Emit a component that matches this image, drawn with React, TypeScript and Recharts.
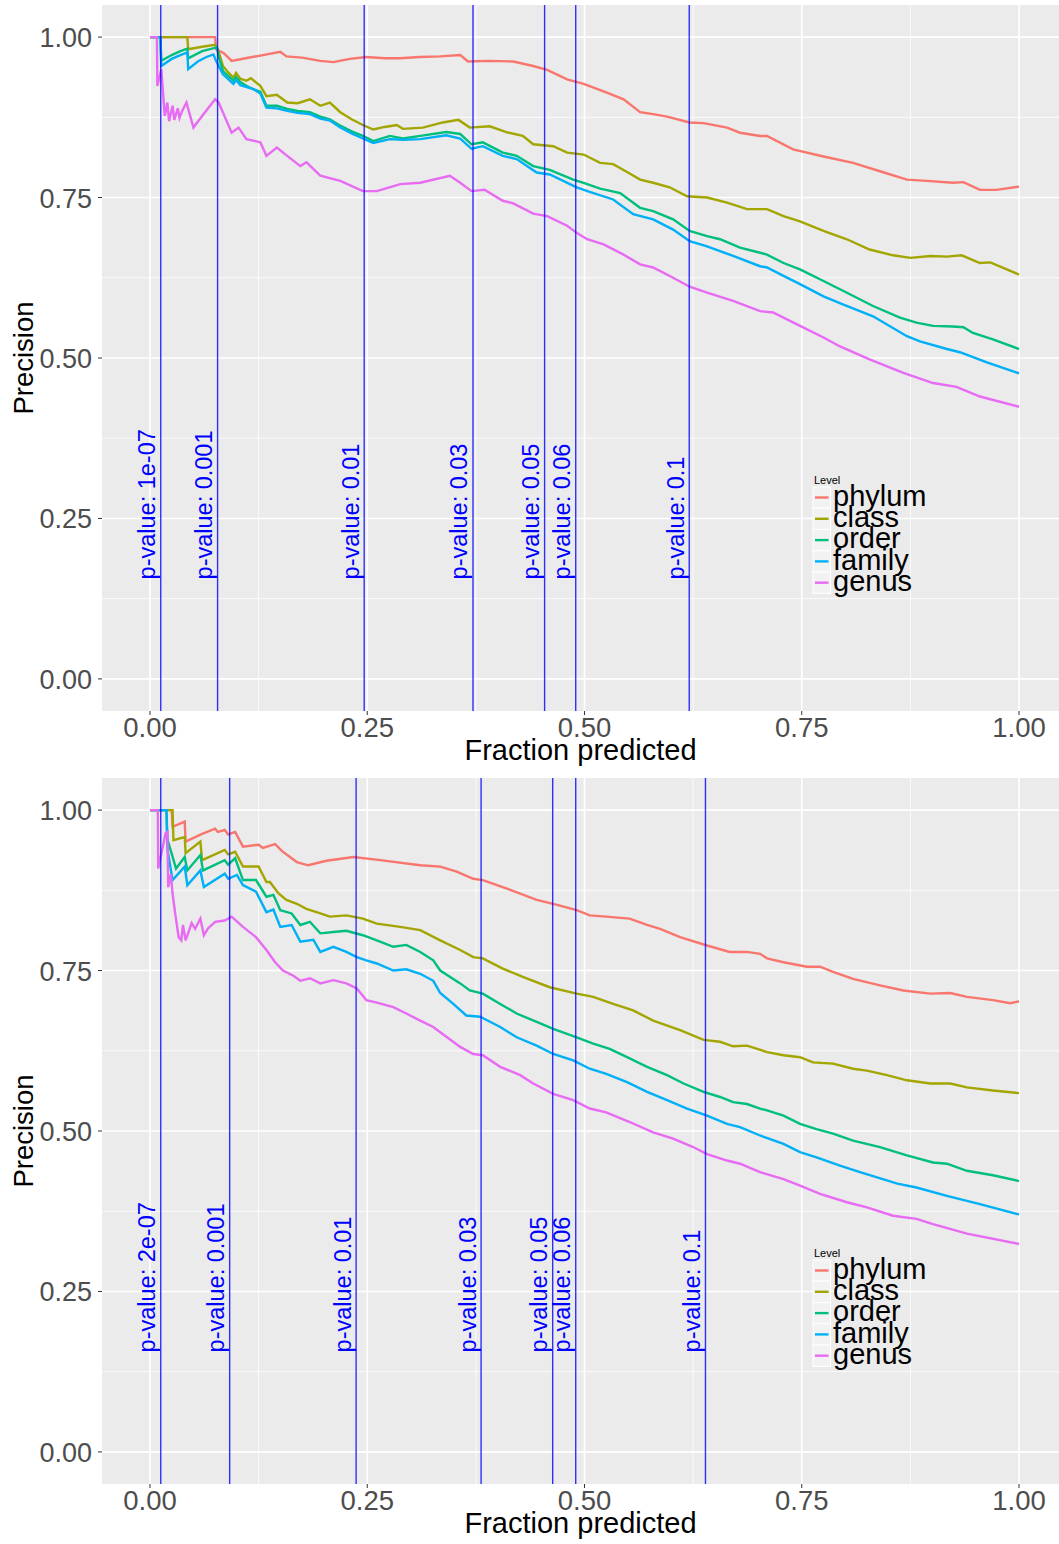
import React from "react";
import {
  LineChart,
  Line,
  XAxis,
  YAxis,
  CartesianGrid,
  ReferenceLine,
  Legend,
} from "recharts";

const LEVELS = ["phylum", "class", "order", "family", "genus"];
const LEVEL_COLORS = ["#F8766D", "#A3A500", "#00BF7D", "#00B0F6", "#E76BF3"];

const MAJOR_BREAKS = [0, 0.25, 0.5, 0.75, 1];
const MINOR_BREAKS = [0.125, 0.375, 0.625, 0.875];

// [fraction predicted, precision]
const topPhylum = [
  [0, 1], [0.075, 1], [0.076, 0.981], [0.085, 0.975], [0.094, 0.963], [0.11, 0.967],
  [0.13, 0.972], [0.15, 0.977], [0.157, 0.97], [0.175, 0.968], [0.196, 0.963],
  [0.211, 0.961], [0.23, 0.966], [0.249, 0.969], [0.27, 0.967], [0.288, 0.967],
  [0.31, 0.969], [0.334, 0.97], [0.357, 0.972], [0.366, 0.962], [0.39, 0.963],
  [0.418, 0.962], [0.441, 0.955], [0.457, 0.949], [0.48, 0.934], [0.499, 0.927],
  [0.525, 0.914], [0.545, 0.903], [0.564, 0.883], [0.579, 0.88], [0.595, 0.876],
  [0.621, 0.867], [0.637, 0.866], [0.664, 0.859], [0.679, 0.851], [0.702, 0.846],
  [0.71, 0.846], [0.74, 0.825], [0.775, 0.814], [0.809, 0.804], [0.84, 0.791],
  [0.871, 0.778], [0.894, 0.776], [0.924, 0.773], [0.936, 0.774], [0.955, 0.762],
  [0.974, 0.762], [1.0, 0.767],
];
const topClass = [
  [0, 1], [0.043, 1], [0.044, 0.981], [0.06, 0.985], [0.075, 0.988], [0.078, 0.981],
  [0.084, 0.955], [0.09, 0.945], [0.096, 0.937], [0.099, 0.944], [0.104, 0.935],
  [0.111, 0.932], [0.116, 0.936], [0.127, 0.924], [0.134, 0.908], [0.146, 0.91],
  [0.158, 0.898], [0.17, 0.897], [0.184, 0.903], [0.196, 0.893], [0.207, 0.898],
  [0.219, 0.883], [0.232, 0.872], [0.245, 0.863], [0.257, 0.856], [0.27, 0.86],
  [0.284, 0.863], [0.291, 0.857], [0.314, 0.859], [0.337, 0.867], [0.355, 0.871],
  [0.368, 0.859], [0.391, 0.861], [0.41, 0.852], [0.429, 0.846], [0.441, 0.833],
  [0.464, 0.83], [0.48, 0.82], [0.499, 0.817], [0.518, 0.804], [0.533, 0.802],
  [0.55, 0.789], [0.564, 0.778], [0.579, 0.773], [0.598, 0.766], [0.618, 0.752],
  [0.641, 0.75], [0.664, 0.742], [0.687, 0.732], [0.71, 0.732], [0.729, 0.721],
  [0.748, 0.713], [0.775, 0.698], [0.802, 0.685], [0.828, 0.669], [0.855, 0.66],
  [0.875, 0.656], [0.898, 0.659], [0.917, 0.658], [0.934, 0.66], [0.955, 0.648],
  [0.967, 0.649], [1.0, 0.63],
];
const topOrder = [
  [0, 1], [0.012, 1], [0.013, 0.963], [0.025, 0.972], [0.035, 0.978], [0.043, 0.982],
  [0.044, 0.967], [0.06, 0.978], [0.077, 0.984], [0.079, 0.97], [0.084, 0.947],
  [0.096, 0.932], [0.099, 0.938], [0.104, 0.93], [0.111, 0.924], [0.12, 0.918],
  [0.127, 0.915], [0.134, 0.893], [0.146, 0.893], [0.158, 0.888], [0.17, 0.885],
  [0.184, 0.883], [0.196, 0.876], [0.207, 0.872], [0.219, 0.862], [0.232, 0.853],
  [0.245, 0.846], [0.257, 0.838], [0.276, 0.846], [0.291, 0.842], [0.311, 0.846],
  [0.341, 0.852], [0.357, 0.849], [0.37, 0.833], [0.383, 0.836], [0.406, 0.82],
  [0.422, 0.815], [0.441, 0.799], [0.46, 0.793], [0.487, 0.778], [0.499, 0.773],
  [0.518, 0.764], [0.541, 0.757], [0.564, 0.734], [0.579, 0.729], [0.602, 0.716],
  [0.621, 0.698], [0.641, 0.69], [0.656, 0.685], [0.679, 0.672], [0.702, 0.664],
  [0.71, 0.661], [0.729, 0.648], [0.748, 0.638], [0.775, 0.62], [0.806, 0.599],
  [0.832, 0.581], [0.863, 0.563], [0.882, 0.555], [0.901, 0.55], [0.924, 0.549],
  [0.936, 0.548], [0.947, 0.539], [0.97, 0.529], [1.0, 0.514],
];
const topFamily = [
  [0, 1], [0.012, 1], [0.013, 0.955], [0.025, 0.966], [0.035, 0.972], [0.043, 0.976],
  [0.044, 0.95], [0.055, 0.962], [0.065, 0.969], [0.073, 0.973], [0.076, 0.963],
  [0.084, 0.942], [0.096, 0.927], [0.099, 0.933], [0.104, 0.925], [0.119, 0.919],
  [0.127, 0.912], [0.134, 0.89], [0.146, 0.889], [0.158, 0.885], [0.17, 0.882],
  [0.184, 0.88], [0.196, 0.873], [0.207, 0.87], [0.219, 0.859], [0.232, 0.85],
  [0.245, 0.842], [0.257, 0.835], [0.276, 0.841], [0.291, 0.84], [0.311, 0.841],
  [0.341, 0.847], [0.357, 0.842], [0.37, 0.826], [0.383, 0.83], [0.406, 0.815],
  [0.422, 0.81], [0.445, 0.789], [0.46, 0.786], [0.491, 0.766], [0.506, 0.759],
  [0.533, 0.747], [0.556, 0.724], [0.579, 0.716], [0.602, 0.7], [0.621, 0.682],
  [0.641, 0.674], [0.671, 0.659], [0.702, 0.643], [0.71, 0.641], [0.729, 0.628],
  [0.748, 0.615], [0.775, 0.596], [0.798, 0.583], [0.832, 0.565], [0.871, 0.534],
  [0.886, 0.526], [0.917, 0.514], [0.932, 0.509], [0.963, 0.493], [1.0, 0.476],
];
const topGenus = [
  [0, 1], [0.008, 1], [0.0085, 0.924], [0.013, 0.95], [0.017, 0.877], [0.02, 0.898],
  [0.022, 0.869], [0.026, 0.893], [0.028, 0.871], [0.032, 0.889], [0.034, 0.874],
  [0.037, 0.885], [0.042, 0.898], [0.05, 0.859], [0.06, 0.877], [0.075, 0.903],
  [0.079, 0.898], [0.094, 0.851], [0.102, 0.859], [0.111, 0.841], [0.127, 0.836],
  [0.134, 0.815], [0.146, 0.828], [0.155, 0.818], [0.173, 0.799], [0.18, 0.805],
  [0.196, 0.784], [0.219, 0.776], [0.245, 0.76], [0.261, 0.76], [0.288, 0.771],
  [0.311, 0.773], [0.345, 0.784], [0.357, 0.773], [0.37, 0.76], [0.385, 0.762],
  [0.406, 0.745], [0.418, 0.741], [0.441, 0.725], [0.457, 0.721], [0.48, 0.706],
  [0.491, 0.695], [0.503, 0.685], [0.522, 0.677], [0.545, 0.661], [0.564, 0.646],
  [0.579, 0.641], [0.602, 0.625], [0.621, 0.611], [0.641, 0.602], [0.671, 0.589],
  [0.702, 0.573], [0.717, 0.571], [0.748, 0.55], [0.775, 0.532], [0.794, 0.518],
  [0.828, 0.498], [0.867, 0.477], [0.901, 0.461], [0.928, 0.455], [0.955, 0.44],
  [1.0, 0.424],
];

const bottomPhylum = [
  [0, 1], [0.025, 1], [0.026, 0.974], [0.04, 0.982], [0.041, 0.951], [0.06, 0.963],
  [0.075, 0.971], [0.078, 0.966], [0.086, 0.969], [0.09, 0.962], [0.098, 0.966],
  [0.107, 0.943], [0.125, 0.946], [0.13, 0.941], [0.144, 0.947], [0.152, 0.936],
  [0.169, 0.919], [0.182, 0.914], [0.203, 0.921], [0.234, 0.927], [0.265, 0.922],
  [0.311, 0.914], [0.334, 0.912], [0.353, 0.904], [0.372, 0.893], [0.383, 0.891],
  [0.41, 0.878], [0.445, 0.86], [0.464, 0.854], [0.491, 0.844], [0.506, 0.836],
  [0.525, 0.834], [0.552, 0.831], [0.572, 0.821], [0.587, 0.815], [0.61, 0.802],
  [0.641, 0.789], [0.667, 0.779], [0.687, 0.779], [0.702, 0.776], [0.71, 0.769],
  [0.729, 0.763], [0.756, 0.756], [0.771, 0.756], [0.786, 0.748], [0.809, 0.737],
  [0.84, 0.727], [0.867, 0.719], [0.898, 0.714], [0.921, 0.715], [0.94, 0.709],
  [0.97, 0.704], [0.99, 0.699], [1.0, 0.702],
];
const bottomClass = [
  [0, 1], [0.026, 1], [0.027, 0.953], [0.04, 0.958], [0.041, 0.933], [0.058, 0.951],
  [0.06, 0.922], [0.086, 0.938], [0.09, 0.931], [0.098, 0.935], [0.107, 0.912],
  [0.125, 0.912], [0.134, 0.888], [0.138, 0.888], [0.148, 0.87], [0.157, 0.86],
  [0.169, 0.854], [0.18, 0.846], [0.196, 0.839], [0.207, 0.834], [0.226, 0.836],
  [0.245, 0.831], [0.261, 0.823], [0.288, 0.818], [0.311, 0.813], [0.334, 0.797],
  [0.357, 0.782], [0.372, 0.771], [0.383, 0.769], [0.406, 0.753], [0.429, 0.74],
  [0.46, 0.724], [0.491, 0.714], [0.51, 0.709], [0.533, 0.698], [0.556, 0.688],
  [0.579, 0.672], [0.61, 0.657], [0.637, 0.642], [0.656, 0.639], [0.671, 0.632],
  [0.687, 0.633], [0.71, 0.623], [0.729, 0.618], [0.748, 0.615], [0.763, 0.607],
  [0.786, 0.605], [0.809, 0.597], [0.825, 0.594], [0.848, 0.587], [0.871, 0.579],
  [0.898, 0.574], [0.921, 0.574], [0.94, 0.568], [0.97, 0.563], [1.0, 0.559],
];
const bottomOrder = [
  [0, 1], [0.019, 1], [0.02, 0.955], [0.03, 0.909], [0.04, 0.927], [0.043, 0.906],
  [0.058, 0.93], [0.061, 0.906], [0.086, 0.922], [0.09, 0.915], [0.098, 0.925],
  [0.107, 0.891], [0.122, 0.891], [0.134, 0.865], [0.142, 0.868], [0.15, 0.844],
  [0.163, 0.839], [0.173, 0.821], [0.184, 0.826], [0.196, 0.808], [0.211, 0.81],
  [0.226, 0.812], [0.245, 0.805], [0.261, 0.797], [0.28, 0.787], [0.295, 0.79],
  [0.311, 0.779], [0.326, 0.766], [0.334, 0.75], [0.357, 0.73], [0.368, 0.719],
  [0.383, 0.714], [0.403, 0.698], [0.422, 0.683], [0.445, 0.67], [0.464, 0.659],
  [0.491, 0.646], [0.51, 0.636], [0.529, 0.628], [0.549, 0.615], [0.572, 0.6],
  [0.595, 0.587], [0.614, 0.574], [0.637, 0.561], [0.656, 0.553], [0.671, 0.545],
  [0.687, 0.542], [0.702, 0.535], [0.71, 0.532], [0.729, 0.524], [0.748, 0.511],
  [0.767, 0.503], [0.786, 0.496], [0.809, 0.485], [0.84, 0.475], [0.871, 0.462],
  [0.901, 0.451], [0.917, 0.449], [0.94, 0.438], [0.97, 0.431], [1.0, 0.422],
];
const bottomFamily = [
  [0, 1], [0.019, 1], [0.02, 0.94], [0.026, 0.891], [0.04, 0.912], [0.043, 0.883],
  [0.058, 0.906], [0.062, 0.88], [0.086, 0.901], [0.09, 0.893], [0.1, 0.899],
  [0.107, 0.883], [0.122, 0.873], [0.134, 0.841], [0.142, 0.845], [0.15, 0.818],
  [0.163, 0.821], [0.173, 0.795], [0.188, 0.798], [0.196, 0.779], [0.211, 0.787],
  [0.226, 0.779], [0.238, 0.771], [0.249, 0.766], [0.261, 0.761], [0.28, 0.75],
  [0.295, 0.752], [0.311, 0.745], [0.326, 0.734], [0.334, 0.715], [0.349, 0.698],
  [0.364, 0.68], [0.38, 0.678], [0.403, 0.662], [0.422, 0.646], [0.445, 0.633],
  [0.464, 0.62], [0.487, 0.61], [0.506, 0.597], [0.525, 0.589], [0.549, 0.576],
  [0.572, 0.561], [0.595, 0.548], [0.618, 0.535], [0.641, 0.524], [0.664, 0.511],
  [0.679, 0.506], [0.702, 0.493], [0.729, 0.48], [0.748, 0.467], [0.767, 0.459],
  [0.794, 0.446], [0.817, 0.436], [0.86, 0.418], [0.882, 0.412], [0.917, 0.399],
  [0.955, 0.386], [1.0, 0.37],
];
const bottomGenus = [
  [0, 1], [0.009, 1], [0.0095, 0.909], [0.018, 0.964], [0.02, 0.966], [0.021, 0.88],
  [0.024, 0.9], [0.026, 0.87], [0.029, 0.839], [0.033, 0.802], [0.036, 0.797],
  [0.038, 0.821], [0.041, 0.797], [0.048, 0.824], [0.052, 0.815], [0.058, 0.831],
  [0.062, 0.805], [0.067, 0.816], [0.075, 0.826], [0.086, 0.828], [0.094, 0.834],
  [0.107, 0.818], [0.122, 0.802], [0.134, 0.782], [0.144, 0.763], [0.153, 0.75],
  [0.165, 0.742], [0.173, 0.734], [0.184, 0.738], [0.196, 0.73], [0.211, 0.735],
  [0.226, 0.73], [0.238, 0.722], [0.249, 0.704], [0.261, 0.7], [0.28, 0.693],
  [0.295, 0.683], [0.311, 0.672], [0.326, 0.662], [0.334, 0.654], [0.357, 0.631],
  [0.372, 0.62], [0.383, 0.618], [0.403, 0.6], [0.426, 0.587], [0.441, 0.574],
  [0.464, 0.558], [0.487, 0.548], [0.506, 0.535], [0.525, 0.529], [0.552, 0.514],
  [0.579, 0.498], [0.602, 0.488], [0.625, 0.475], [0.641, 0.464], [0.664, 0.454],
  [0.679, 0.449], [0.702, 0.436], [0.729, 0.425], [0.748, 0.415], [0.771, 0.402],
  [0.802, 0.389], [0.825, 0.381], [0.855, 0.368], [0.882, 0.363], [0.901, 0.355],
  [0.94, 0.34], [1.0, 0.324],
];

// p-value cutoffs, as fraction predicted
const topCutoffs = [0.0124, 0.0778, 0.2465, 0.3717, 0.4541, 0.4899, 0.6205];
const topCutoffLabels = [
  "p-value: 1e-07", "p-value: 0.001", "p-value: 0.01", "p-value: 0.03",
  "p-value: 0.05", "p-value: 0.06", "p-value: 0.1",
];
const bottomCutoffs = [0.0124, 0.0917, 0.2372, 0.381, 0.4634, 0.4899, 0.6392];
const bottomCutoffLabels = [
  "p-value: 2e-07", "p-value: 0.001", "p-value: 0.01", "p-value: 0.03",
  "p-value: 0.05", "p-value: 0.06", "p-value: 0.1",
];

const X_DOMAIN = [-0.0552, 1.046];
const Y_DOMAIN = [-0.05, 1.05];
const LABEL_AT = 0.155;
const FONT = '"Liberation Sans", Arial, Helvetica, sans-serif';

const toPoints = (pairs) => pairs.map(([f, p]) => ({ f, p }));

function XTick({ x, y, payload }) {
  return (
    <text x={x} y={y + 20} textAnchor="middle" fill="#4D4D4D" fontSize={27.5} fontFamily={FONT}>
      {payload.value.toFixed(2)}
    </text>
  );
}

function YTick({ x, y, payload }) {
  return (
    <text x={x} y={y + 10} textAnchor="end" fill="#4D4D4D" fontSize={27} fontFamily={FONT}>
      {payload.value.toFixed(2)}
    </text>
  );
}

function cutoffLabel(text) {
  return ({ viewBox }) => {
    if (!viewBox) return null;
    const x = viewBox.x - 5.5;
    const y =
      viewBox.y +
      (viewBox.height * (Y_DOMAIN[1] - LABEL_AT)) / (Y_DOMAIN[1] - Y_DOMAIN[0]);
    return (
      <text
        x={x}
        y={y}
        transform={`rotate(-90 ${x} ${y})`}
        fill="#0000FF"
        fontSize={23.5}
        fontFamily={FONT}
      >
        {text}
      </text>
    );
  };
}

function LevelLegend() {
  return (
    <svg width={130} height={130} style={{ overflow: "visible" }}>
      <text x={2} y={14} fontSize={11} fontFamily={FONT} fill="#000">
        Level
      </text>
      {LEVELS.map((name, i) => {
        const cy = 27.5 + i * 21.3;
        return (
          <g key={name}>
            <rect x={1} y={cy - 10.6} width={17.5} height={21.3} fill="#F2F2F2" stroke="#FFFFFF" strokeWidth={1} />
            <line x1={3} x2={16.5} y1={cy} y2={cy} stroke={LEVEL_COLORS[i]} strokeWidth={2.4} />
            <text x={21} y={cy + 8.2} fontSize={29} fontFamily={FONT} fill="#000">
              {name}
            </text>
          </g>
        );
      })}
    </svg>
  );
}

function PrecisionPanel({ top, series, cutoffs, cutoffLabels }) {
  return (
    <div style={{ position: "absolute", left: 0, top, width: 1059, height: 771 }}>
      <LineChart width={1059} height={771} margin={{ top: 5, right: 0, bottom: 0, left: 0 }}>
        <CartesianGrid
          fill="#EBEBEB"
          stroke="#FFFFFF"
          strokeWidth={0.8}
          horizontalValues={MINOR_BREAKS}
          verticalValues={MINOR_BREAKS}
        />
        <CartesianGrid
          stroke="#FFFFFF"
          strokeWidth={1.6}
          horizontalValues={MAJOR_BREAKS}
          verticalValues={MAJOR_BREAKS}
        />
        <XAxis
          type="number"
          dataKey="f"
          domain={X_DOMAIN}
          ticks={MAJOR_BREAKS}
          allowDataOverflow
          height={60}
          axisLine={false}
          tickLine={{ stroke: "#333333" }}
          tickSize={4}
          tickMargin={2}
          tick={XTick}
          label={{
            content: ({ viewBox }) =>
              viewBox ? (
                <text
                  x={viewBox.x + viewBox.width / 2}
                  y={viewBox.y + 49}
                  textAnchor="middle"
                  fontSize={29}
                  fontFamily={FONT}
                  fill="#000"
                >
                  Fraction predicted
                </text>
              ) : null,
          }}
        />
        <YAxis
          type="number"
          domain={Y_DOMAIN}
          ticks={MAJOR_BREAKS}
          allowDataOverflow
          width={102}
          axisLine={false}
          tickLine={{ stroke: "#333333" }}
          tickSize={4}
          tickMargin={6}
          tick={YTick}
          label={{
            content: ({ viewBox }) => {
              if (!viewBox) return null;
              const x = 33;
              const y = viewBox.y + viewBox.height / 2;
              return (
                <text
                  x={x}
                  y={y}
                  transform={`rotate(-90 ${x} ${y})`}
                  textAnchor="middle"
                  fontSize={27.5}
                  fontFamily={FONT}
                  fill="#000"
                >
                  Precision
                </text>
              );
            },
          }}
        />
        {series.map((pairs, i) => (
          <Line
            key={LEVELS[i]}
            name={LEVELS[i]}
            data={toPoints(pairs)}
            dataKey="p"
            type="linear"
            stroke={LEVEL_COLORS[i]}
            strokeWidth={2.4}
            dot={false}
            activeDot={false}
            isAnimationActive={false}
          />
        ))}
        {cutoffs.map((c, i) => (
          <ReferenceLine
            key={c}
            x={c}
            stroke="#0000FF"
            strokeOpacity={0.8}
            strokeWidth={1.4}
            label={{ content: cutoffLabel(cutoffLabels[i]) }}
          />
        ))}
        <Legend
          layout="vertical"
          align="center"
          verticalAlign="middle"
          content={() => <LevelLegend />}
          wrapperStyle={{ left: 812, top: 470, width: 130, height: 130 }}
        />
      </LineChart>
    </div>
  );
}

export default function App() {
  return (
    <div style={{ position: "absolute", left: 0, top: 0, width: 1059, height: 1544, background: "#FFFFFF" }}>
      <PrecisionPanel
        top={0}
        series={[topPhylum, topClass, topOrder, topFamily, topGenus]}
        cutoffs={topCutoffs}
        cutoffLabels={topCutoffLabels}
      />
      <PrecisionPanel
        top={773}
        series={[bottomPhylum, bottomClass, bottomOrder, bottomFamily, bottomGenus]}
        cutoffs={bottomCutoffs}
        cutoffLabels={bottomCutoffLabels}
      />
    </div>
  );
}
